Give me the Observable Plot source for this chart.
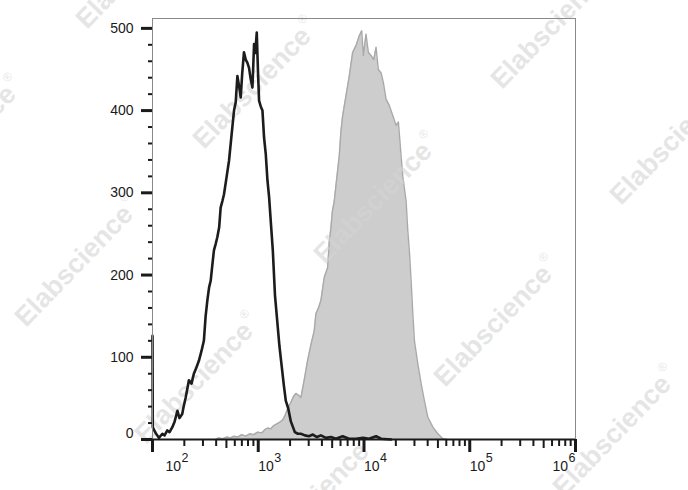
<!DOCTYPE html>
<html><head><meta charset="utf-8">
<script src="https://cdn.jsdelivr.net/npm/d3@7"></script>
<script src="https://cdn.jsdelivr.net/npm/@observablehq/plot@0.6"></script>
<style>
html,body{margin:0;padding:0;background:#fff;}
#chart{width:688px;height:490px;overflow:hidden;position:relative;}
</style></head><body><div id="chart"></div>
<script>
// Isotype control (black outline)
const blackX = [100, 100.6, 103, 107, 115, 124, 130, 138, 145, 154, 162, 172, 180, 191, 197, 206, 221, 234, 246, 261, 275, 291, 306, 318, 330, 343, 355, 370, 381, 396, 410, 427, 441, 458, 474, 503, 529, 561, 590, 612, 635, 658, 683, 705, 733, 761, 790, 818, 849, 881, 913, 937, 968, 996, 1018, 1056, 1096, 1135, 1178, 1222, 1266, 1314, 1373, 1440, 1498, 1585, 1670, 1745, 1823, 1920, 2033, 2218, 2368, 2528, 2760, 3012, 3286, 3585, 3912, 4364, 4867, 5427, 6283, 7207, 8400, 9784, 11154, 12995, 14494, 18030];
const blackY = [126, 15, 12, 8, 2, 7, 5, 11, 9, 15, 22, 35, 26, 31, 40, 51, 72, 68, 80, 88, 96, 108, 120, 150, 169, 185, 193, 215, 230, 238, 246, 258, 282, 290, 298, 320, 339, 372, 400, 410, 442, 430, 416, 445, 471, 462, 458, 452, 438, 428, 481, 470, 495, 445, 412, 405, 400, 367, 347, 315, 295, 265, 230, 175, 150, 114, 88, 66, 47, 38, 22, 9, 7, 7, 5, 4, 6, 3, 5, 2, 3, 1, 4, 1, 1, 2, 1, 4, 1, 0];
// Stained sample (gray filled)
const grayX = [396, 422, 461, 503, 549, 586, 639, 698, 761, 831, 906, 989, 1079, 1153, 1230, 1314, 1403, 1498, 1599, 1707, 1803, 1904, 2033, 2147, 2268, 2394, 2528, 2700, 2927, 3145, 3380, 3508, 3704, 3912, 4205, 4529, 4691, 4867, 5029, 5231, 5548, 5833, 6053, 6283, 6752, 7256, 7815, 8400, 9027, 9511, 9849, 10447, 10985, 11652, 12360, 12995, 13664, 14494, 15240, 16164, 17373, 18710, 20107, 21142, 22427, 23275, 24099, 25009, 25953, 27000, 27903, 28951, 29988, 32282, 34697, 37282, 40172, 44800, 49955, 55719, 61190];
const grayY = [0, 2, 1, 3, 2, 4, 3, 6, 4, 7, 6, 9, 8, 12, 14, 13, 17, 19, 21, 24, 30, 38, 45, 52, 56, 54, 51, 70, 96, 115, 132, 153, 160, 169, 197, 209, 240, 258, 278, 290, 320, 345, 375, 394, 418, 442, 471, 479, 491, 497, 467, 493, 471, 467, 462, 477, 450, 446, 434, 414, 406, 394, 382, 386, 345, 320, 305, 290, 254, 225, 193, 153, 120, 92, 68, 47, 27, 15, 7, 1, 0];
// Axes
const yTicks = [0, 100, 200, 300, 400, 500];
const yMinorTicks = [20, 40, 60, 80, 120, 140, 160, 180, 220, 240, 260, 280, 320, 340, 360, 380, 420, 440, 460, 480];
const xDecades = [1e2, 1e3, 1e4, 1e5, 1e6];
const xTickBase = "10";
const xTickExponents = ["2", "3", "4", "5", "6"];
const watermarkText = "Elabscience";

const black = blackX.map((x, i) => ({x, y: blackY[i]}));
const gray = grayX.map((x, i) => ({x, y: grayY[i]}));
const xMinor = [], xMid = [];
for (const d of xDecades.slice(0, -1)) for (let m = 2; m <= 9; m++) (m === 5 ? xMid : xMinor).push(d * m);
const xLab = xDecades.map((d, i) => ({d, e: xTickExponents[i]}));

const font = "'Liberation Sans', Arial, Helvetica, sans-serif";
const ink = "#1a1a1a";

const chart = Plot.plot({
  width: 688, height: 490,
  marginLeft: 152, marginRight: 113, marginTop: 18, marginBottom: 51,
  x: {type: "log", domain: [100, 1e6], axis: null},
  y: {domain: [0, 512], axis: null},
  style: {background: "#fff", fontFamily: font, fontSize: "14px", color: ink},
  marks: [
    Plot.areaY(gray, {x: "x", y: "y", fill: "#cdcdcd"}),
    Plot.lineY(gray, {x: "x", y: "y", stroke: "#a9a9a9", strokeWidth: 1.4}),
    Plot.lineY(black, {x: "x", y: "y", stroke: "#1c1c1c", strokeWidth: 2.6, strokeLinejoin: "round"}),
    Plot.frame({stroke: "#8a8a8a", strokeWidth: 1}),
    Plot.ruleY([0], {stroke: ink, strokeWidth: 2.2}),
    Plot.axisY({ticks: yTicks, tickSize: 11, stroke: ink, strokeWidth: 3, fill: "none", label: null, anchor: "left"}),
    Plot.axisY({ticks: yMinorTicks, tickSize: 4, stroke: ink, strokeWidth: 2, fill: "none", label: null, anchor: "left"}),
    Plot.axisX({ticks: xDecades, tickSize: 13, stroke: ink, strokeWidth: 3, fill: "none", label: null, anchor: "bottom"}),
    Plot.axisX({ticks: xMid, tickSize: 9, stroke: ink, strokeWidth: 2, fill: "none", label: null, anchor: "bottom"}),
    Plot.axisX({ticks: xMinor, tickSize: 7, stroke: ink, strokeWidth: 2, fill: "none", label: null, anchor: "bottom"}),
    Plot.text(yTicks.filter(d => d > 0), {y: d => d, text: d => String(d), frameAnchor: "left", textAnchor: "end", dx: -19, fontSize: 14, fill: ink}),
    Plot.text(yTicks.filter(d => d === 0), {y: d => d, text: d => String(d), frameAnchor: "left", textAnchor: "end", dx: -19, dy: -6, fontSize: 14, fill: ink}),
    // x tick labels: 10 with superscript exponent
    Plot.text(xLab.slice(0, 1), {x: "d", text: () => xTickBase, frameAnchor: "bottom", textAnchor: "start", dx: 13, dy: 31, fontSize: 14, fill: ink}),
    Plot.text(xLab.slice(0, 1), {x: "d", text: "e", frameAnchor: "bottom", textAnchor: "start", dx: 29, dy: 22, fontSize: 12.5, fill: ink}),
    Plot.text(xLab.slice(1, 4), {x: "d", text: () => xTickBase, frameAnchor: "bottom", textAnchor: "start", dx: 0, dy: 31, fontSize: 14, fill: ink}),
    Plot.text(xLab.slice(1, 4), {x: "d", text: "e", frameAnchor: "bottom", textAnchor: "start", dx: 16, dy: 22, fontSize: 12.5, fill: ink}),
    Plot.text(xLab.slice(4), {x: "d", text: () => xTickBase, frameAnchor: "bottom", textAnchor: "start", dx: -23, dy: 31, fontSize: 14, fill: ink}),
    Plot.text(xLab.slice(4), {x: "d", text: "e", frameAnchor: "bottom", textAnchor: "start", dx: -7, dy: 22, fontSize: 12.5, fill: ink})
  ]
});
document.getElementById("chart").appendChild(chart);

// Watermark layer (decorative), inserted below the black outline
const wmCenters = [[140,-35],[257,85],[378,200],[498,323],[617,433],[-38,143],[79,263],[199,380],[315,500],[555,25],[674,141]];
const lines = chart.querySelectorAll('g[aria-label="line"]');
const before = lines[lines.length - 1];
const wm = document.createElementNS("http://www.w3.org/2000/svg", "g");
before.parentNode.insertBefore(wm, before);
const gwm = d3.select(wm).attr("fill", "#d4d4d4").attr("fill-opacity", 0.6)
  .attr("font-family", font).attr("font-weight", "bold").attr("font-size", 27);
for (const [cx, cy] of wmCenters) {
  const t = gwm.append("text").attr("transform", `translate(${cx},${cy}) rotate(-46)`)
    .attr("text-anchor", "middle").attr("dominant-baseline", "middle");
  t.append("tspan").text(watermarkText);
  t.append("tspan").attr("font-size", 12).attr("font-weight", "normal").attr("dy", -12).attr("dx", 2).text("®");
}
</script>
</body></html>
